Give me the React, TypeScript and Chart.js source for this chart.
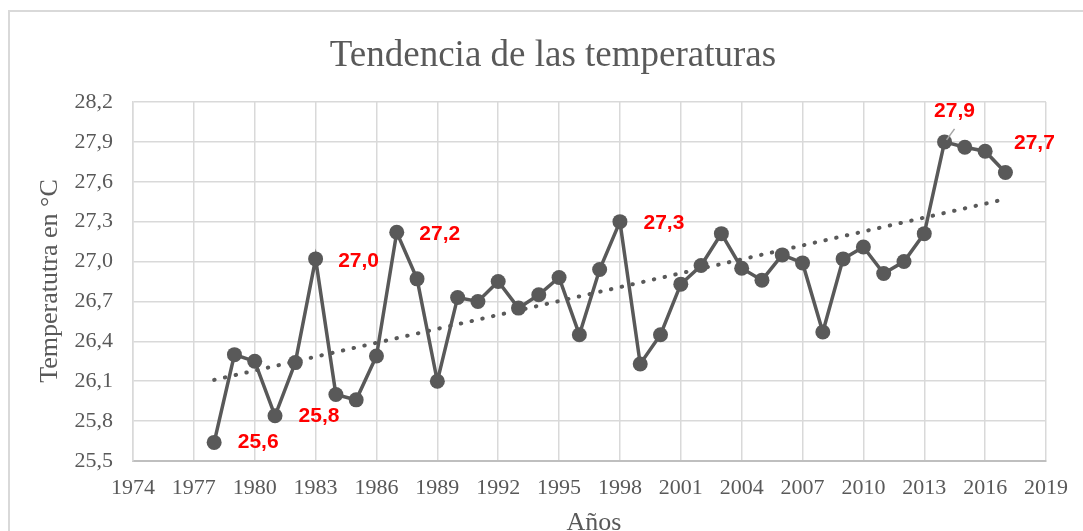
import React, { useEffect, useRef } from "react";
import { Chart, registerables } from "chart.js";

Chart.register(...registerables);

const years: number[] = [
  1978, 1979, 1980, 1981, 1982, 1983, 1984, 1985, 1986, 1987,
  1988, 1989, 1990, 1991, 1992, 1993, 1994, 1995, 1996, 1997,
  1998, 1999, 2000, 2001, 2002, 2003, 2004, 2005, 2006, 2007,
  2008, 2009, 2010, 2011, 2012, 2013, 2014, 2015, 2016, 2017,
];
const temperatures: number[] = [
  25.64, 26.30, 26.25, 25.84, 26.24, 27.02, 26.00, 25.96, 26.29, 27.22,
  26.87, 26.10, 26.73, 26.70, 26.85, 26.65, 26.75, 26.88, 26.45, 26.94,
  27.30, 26.23, 26.45, 26.83, 26.97, 27.21, 26.95, 26.86, 27.05, 26.99,
  26.47, 27.02, 27.11, 26.91, 27.00, 27.21, 27.90, 27.86, 27.83, 27.67,
];
const trendYears: number[] = [1978, 2017];
const trendValues: number[] = [26.11, 27.47];
const labelledYears: number[] = [1978, 1981, 1983, 1987, 1998, 2014, 2017];

const titleText = "Tendencia de las temperaturas";
const yTitle = "Temperatutra en °C";
const xTitle = "Años";
const xMin = 1974, xMax = 2019, xStep = 3;
const yMin = 25.5, yMax = 28.2, yStep = 0.3;

const GRAY = "#595959";
const SERIF = '"Liberation Serif", "Times New Roman", serif';

const labelOffsets: Record<number, [number, number]> = {
  1978: [44, 0],
  1981: [44, 0],
  1983: [43, 2],
  1987: [43, 2],
  1998: [44, 2],
  2014: [10, -31],
  2017: [29, -29],
};

const decor = {
  id: "decor",
  afterDraw(chart: any) {
    const ctx = chart.ctx;
    const xs = chart.scales.x;
    const ys = chart.scales.y;
    ctx.save();
    ctx.fillStyle = GRAY;
    ctx.font = `37px ${SERIF}`;
    ctx.textAlign = "center";
    ctx.textBaseline = "alphabetic";
    ctx.fillText(titleText, 553, 66);
    ctx.font = `26px ${SERIF}`;
    ctx.fillText(xTitle, 594, 530);
    ctx.save();
    ctx.translate(57, 281);
    ctx.rotate(-Math.PI / 2);
    ctx.fillText(yTitle, 0, 0);
    ctx.restore();
    ctx.font = 'bold 21px "Liberation Sans", Arial, sans-serif';
    ctx.textBaseline = "middle";
    ctx.textAlign = "center";
    labelledYears.forEach((yr) => {
      const i = years.indexOf(yr);
      const v = temperatures[i];
      const px = xs.getPixelForValue(yr);
      const py = ys.getPixelForValue(v);
      const [dx, dy] = labelOffsets[yr];
      if (yr === 2014) {
        ctx.strokeStyle = "#a6a6a6";
        ctx.lineWidth = 1.5;
        ctx.beginPath();
        ctx.moveTo(px + 2, py - 2);
        ctx.lineTo(px + 10, py - 13);
        ctx.stroke();
      }
      ctx.fillStyle = "#ff0000";
      ctx.fillText(v.toFixed(1).replace(".", ","), px + dx, py + dy);
    });
    ctx.restore();
  },
};

export default function App() {
  const ref = useRef<HTMLCanvasElement | null>(null);
  useEffect(() => {
    if (!ref.current) return;
    const chart = new Chart(ref.current, {
      type: "line",
      data: {
        datasets: [
          {
            label: "Temperatura",
            data: years.map((y, i) => ({ x: y, y: temperatures[i] })),
            borderColor: GRAY,
            backgroundColor: GRAY,
            borderWidth: 3.5,
            pointRadius: 7.5,
            pointBackgroundColor: GRAY,
            pointBorderWidth: 0,
            tension: 0,
            order: 0,
          },
          {
            label: "Tendencia",
            data: trendYears.map((y, i) => ({ x: y, y: trendValues[i] })),
            borderColor: GRAY,
            borderWidth: 4,
            borderDash: [0.5, 10.5],
            borderCapStyle: "round",
            pointRadius: 0,
            order: 1,
          },
        ],
      },
      options: {
        animation: false,
        responsive: false,
        events: [],
        layout: { padding: { left: 0, top: 102, right: 37, bottom: 0 } },
        plugins: { legend: { display: false }, title: { display: false }, tooltip: { enabled: false } },
        scales: {
          x: {
            type: "linear",
            min: xMin,
            max: xMax,
            afterFit: (s: any) => { s.height = 70; },
            grid: { color: "#d9d9d9", lineWidth: 1.5, drawTicks: false },
            border: { color: "#bfbfbf", width: 2 },
            ticks: {
              stepSize: xStep,
              padding: 14,
              color: GRAY,
              font: { family: SERIF, size: 22 },
              maxRotation: 0,
              autoSkip: false,
              callback: (v: any) => String(v),
            },
          },
          y: {
            type: "linear",
            min: yMin,
            max: yMax,
            afterFit: (s: any) => { s.width = 133; },
            grid: { color: "#d9d9d9", lineWidth: 1.5, drawTicks: false },
            border: { color: "#d9d9d9", width: 1.5 },
            ticks: {
              stepSize: yStep,
              padding: 20,
              color: GRAY,
              font: { family: SERIF, size: 22 },
              autoSkip: false,
              callback: (v: any) => Number(v).toFixed(1).replace(".", ","),
            },
          },
        },
      },
      plugins: [decor],
    } as any);
    return () => chart.destroy();
  }, []);
  return (
    <div>
      <div
        style={{
          position: "fixed",
          left: 8,
          top: 10,
          width: 1200,
          height: 700,
          border: "2px solid #d9d9d9",
          background: "#fff",
        }}
      />
      <canvas
        ref={ref}
        width={1083}
        height={531}
        style={{ position: "fixed", left: 0, top: 0, width: 1083, height: 531 }}
      />
    </div>
  );
}
